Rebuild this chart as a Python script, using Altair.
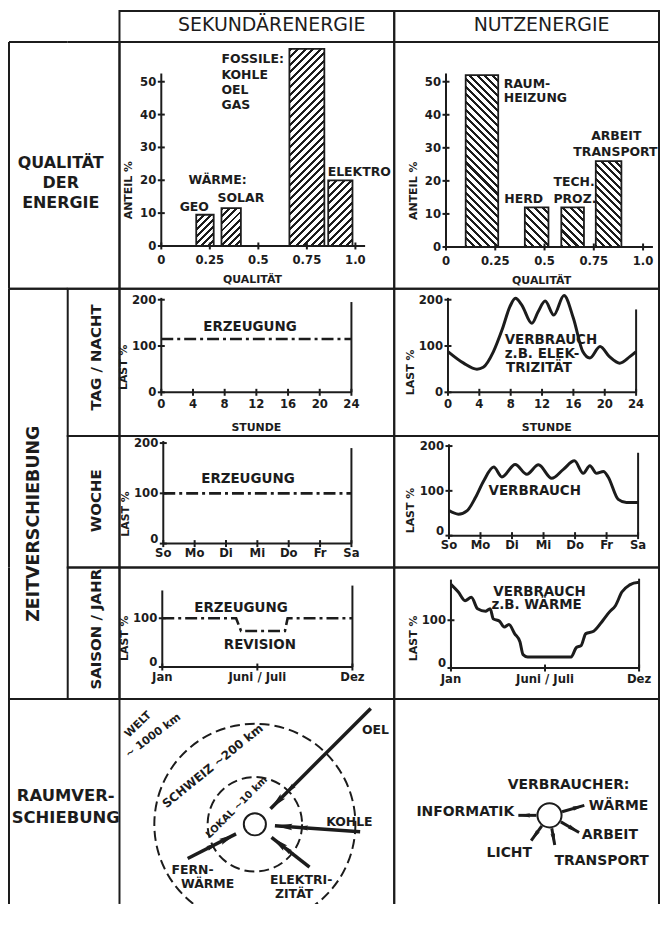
import pandas as pd
import altair as alt

# ================= texts =================
column_titles = ["SEKUNDÄRENERGIE", "NUTZENERGIE"]
qual_title = ["QUALITÄT", "DER", "ENERGIE"]
zeit_title = "ZEITVERSCHIEBUNG"
zeit_rows = ["TAG / NACHT", "WOCHE", "SAISON / JAHR"]
raum_title = ["RAUMVER-", "SCHIEBUNG"]

# ================= Qualität der Energie =================
qual_ticks = [0, 0.25, 0.5, 0.75, 1.0]
qual_tick_labels = ["0", "0.25", "0.5", "0.75", "1.0"]
anteil_ticks = [0, 10, 20, 30, 40, 50]
anteil_tick_labels = ["0", "10", "20", "30", "40", "50"]

sek_bar_q0 = [0.18, 0.31, 0.66, 0.86]
sek_bar_q1 = [0.27, 0.41, 0.84, 0.985]
sek_bar_anteil = [9.5, 11.5, 60.0, 20.0]
sek_lbl_text = ["GEO", "WÄRME:", "SOLAR", "FOSSILE:", "KOHLE", "OEL", "GAS", "ELEKTRO"]
sek_lbl_q = [0.17, 0.29, 0.41, 0.31, 0.31, 0.31, 0.31, 1.02]
sek_lbl_anteil = [11.8, 20.0, 14.5, 57.0, 52.1, 47.6, 43.0, 22.4]
sek_lbl_align = ["center", "center", "center", "left", "left", "left", "left", "center"]

nutz_bar_q0 = [0.10, 0.40, 0.585, 0.76]
nutz_bar_q1 = [0.265, 0.52, 0.70, 0.89]
nutz_bar_anteil = [52.0, 12.0, 12.0, 26.0]
nutz_lbl_text = ["RAUM-", "HEIZUNG", "HERD", "TECH.", "PROZ.", "ARBEIT", "TRANSPORT"]
nutz_lbl_q = [0.293, 0.293, 0.394, 0.545, 0.545, 0.864, 0.86]
nutz_lbl_anteil = [49.4, 45.2, 14.5, 19.6, 14.5, 33.7, 28.6]
nutz_lbl_align = ["left", "left", "center", "left", "left", "center", "center"]

# ================= Zeitverschiebung =================
last_ticks = [0, 100, 200]
last_tick_labels = ["0", "100", "200"]
saison_last_ticks = [0, 100]
saison_last_tick_labels = ["0", "100"]

tag_ticks = [0, 4, 8, 12, 16, 20, 24]
tag_tick_labels = ["0", "4", "8", "12", "16", "20", "24"]
tag_erz_stunde = [0, 24]
tag_erz_last = [115, 115]
tag_verb_stunde = [0, 2.0, 3.7, 4.5, 5.8, 6.9, 7.9, 8.6, 9.4, 10.7, 11.5, 12.4, 13.5,
                   14.8, 16.0, 17.2, 18.1, 19.4, 20.6, 21.9, 23.2, 24]
tag_verb_last = [88, 63, 50, 54, 88, 135, 185, 203, 189, 149, 174, 197, 167,
                 209, 160, 88, 74, 99, 77, 63, 77, 88]

woche_ticks = [0, 1, 2, 3, 4, 5, 6]
woche_tick_labels = ["So", "Mo", "Di", "Mi", "Do", "Fr", "Sa"]
woche_erz_tag = [0, 6]
woche_erz_last = [100, 100]
woche_verb_tag = [0, 0.3, 0.58, 0.84, 1.1, 1.42, 1.68, 2.1, 2.47, 2.84, 3.26, 3.63,
                  3.98, 4.26, 4.47, 4.68, 4.9, 5.05, 5.37, 5.63, 6.0]
woche_verb_last = [56, 48, 56, 85, 122, 153, 131, 159, 137, 158, 128, 148,
                   167, 139, 156, 139, 143, 131, 81, 74, 74]

saison_ticks = [0, 6, 12]
saison_tick_labels = ["Jan", "Juni / Juli", "Dez"]
saison_erz_monat = [0, 4.66, 4.97, 7.74, 7.91, 12]
saison_erz_last = [100, 100, 74, 74, 100, 100]
saison_verb_monat = [0, 0.47, 0.9, 1.3, 1.7, 2.2, 2.5, 2.7, 3.1, 3.4, 3.7, 4.06, 4.4,
                     4.6, 4.9, 7.66, 8.0, 8.3, 8.6, 9.1, 9.7, 10.1, 10.5, 10.9, 11.4, 11.9, 12]
saison_verb_last = [175, 159, 141, 148, 124, 119, 124, 103, 98, 86, 91, 72, 55,
                    28, 23, 23, 43, 47, 72, 77, 100, 117, 131, 159, 174, 179, 179]

# right-hand frame line heights (tag, woche, saison)
sek_frame_top = [195, 190, 167]
nutz_frame_top = [179, 185, 187]

tag_sek_lbl = (["ERZEUGUNG"], [11.2], [140], ["center"])
woche_sek_lbl = (["ERZEUGUNG"], [2.7], [129], ["center"])
saison_sek_lbl = (["ERZEUGUNG", "REVISION"], [4.97, 6.16], [120, 45], ["center", "center"])
tag_nutz_lbl = (["VERBRAUCH", "z.B. ELEK-", "TRIZITÄT"], [7.24, 7.24, 7.4], [112, 82, 52],
                ["left", "left", "left"])
woche_nutz_lbl = (["VERBRAUCH"], [2.72], [100], ["center"])
saison_nutz_lbl = (["VERBRAUCH", "z.B. WÄRME"], [5.65, 5.46], [160, 131], ["center", "center"])

# ================= Raumverschiebung =================
ring_radius = [0.47, 1.0]          # LOKAL, SCHWEIZ
hub_radius = [0.11]
energy_names = ["OEL", "KOHLE", "ELEKTRIZITÄT", "FERNWÄRME"]
energy_phi = [45, -4, -38, 207]
energy_r_from = [1.63, 1.05, 0.69, 0.75]
energy_r_to = [0.22, 0.20, 0.21, 0.21]
energy_r_mark = [0.50, 0.48, 0.40, 0.48]
circle_lbl_text = ["OEL", "KOHLE", "ELEKTRI-", "ZITÄT", "FERN-", "WÄRME", "WELT",
                   "~ 1000 km", "SCHWEIZ ~200 km", "LOKAL ~10 km"]
circle_lbl_x = [1.2, 0.94, 0.15, 0.20, -0.62, -0.47, -1.16, -1.01, -0.42, -0.18]
circle_lbl_y = [0.94, 0.02, -0.55, -0.69, -0.455, -0.59, 0.99, 0.88, 0.58, 0.17]
circle_lbl_align = ["center", "center", "left", "left", "center", "center", "center",
                    "center", "center", "center"]
circle_lbl_angle = [0, 0, 0, 0, 0, 0, 316, 323, 321, 315]
circle_lbl_size = [12.5, 12.5, 12.5, 12.5, 12.5, 12.5, 11, 11, 12, 10]

cons_hub_radius = [0.12]
cons_names = ["INFORMATIK", "WÄRME", "ARBEIT", "TRANSPORT", "LICHT"]
cons_phi = [180, 16, -30, -80, -126]
cons_r_from = [0.13, 0.13, 0.13, 0.13, 0.13]
cons_r_to = [0.31, 0.36, 0.34, 0.30, 0.31]
cons_lbl_text = ["VERBRAUCHER:", "INFORMATIK", "WÄRME", "ARBEIT", "TRANSPORT", "LICHT"]
cons_lbl_x = [0.19, -0.35, 0.39, 0.32, 0.05, -0.40]
cons_lbl_y = [0.30, 0.03, 0.09, -0.20, -0.45, -0.37]
cons_lbl_align = ["center", "right", "left", "left", "left", "center"]

# ================= style / layout =================
LINE = "#1c1c1c"
FONT = "DejaVu Sans"
COND = "DejaVu Sans Condensed, Liberation Sans Narrow, DejaVu Sans"
ARROW = "M0,-1L0.3,0.6L0,0.35L-0.3,0.6Z"
COLW = [59, 52, 276, 266]
ROWH = [31, 248, 148, 132, 132, 206]
UNIT = 101  # px per unit in the Raum diagrams
one = pd.DataFrame({"k": [0]})
NOSTROKE = alt.ViewBackground(strokeOpacity=0)


def border_layers(w, h, sides):
    out = []
    for s in sides:
        if s == "top":
            enc = dict(x=alt.value(0), x2=alt.value(w), y=alt.value(0))
        elif s == "bottom":
            enc = dict(x=alt.value(0), x2=alt.value(w), y=alt.value(h))
        elif s == "left":
            enc = dict(x=alt.value(0), y=alt.value(0), y2=alt.value(h))
        else:
            enc = dict(x=alt.value(w), y=alt.value(0), y2=alt.value(h))
        out.append(alt.Chart(one).mark_rule(color=LINE, strokeWidth=2).encode(**enc))
    return out


def text_cell(w, h, text, cx, cy, size, angle=0, sides=None, lh=None, weight="normal"):
    kw = dict(text=text, font=FONT, fontSize=size, fontWeight=weight, color=LINE,
              align="center", baseline="middle")
    if angle:
        kw["angle"] = angle
    if lh:
        kw["lineHeight"] = lh
    layers = border_layers(w, h, sides or [])
    layers.append(alt.Chart(one).mark_text(**kw).encode(x=alt.value(cx), y=alt.value(cy)))
    ch = alt.layer(*layers).properties(width=w, height=h)
    if sides is not None:
        ch = ch.properties(view=NOSTROKE)
    return ch


def blank_cell(w, h, sides):
    layers = border_layers(w, h, sides)
    layers.append(alt.Chart(one).mark_text(text=" ", fontSize=4).encode(
        x=alt.value(w / 2), y=alt.value(h / 2)))
    return alt.layer(*layers).properties(width=w, height=h, view=NOSTROKE)


def scales(p):
    xs = alt.Scale(domain=p["xdom"], range=p["xr"], nice=False, zero=False)
    ys = alt.Scale(domain=p["ydom"], range=p["yr"], nice=False, zero=False)
    return xs, ys


def axis_layers(p, xs, ys):
    """Axis lines, crossing ticks, tick labels and titles, drawn through the panel scales."""
    X = lambda f: alt.X(f, type="quantitative", scale=xs, axis=None)
    Y = lambda f: alt.Y(f, type="quantitative", scale=ys, axis=None)
    x0, x1 = p["xdom"][0], p["xline"]
    y0, y1 = p["ydom"][0], p["yline"]
    out = []
    lines = pd.DataFrame({"xa": [x0, x0], "xb": [x1, x0], "ya": [y0, y0], "yb": [y0, y1]})
    out.append(alt.Chart(lines).mark_rule(color=LINE, strokeWidth=2).encode(
        x=X("xa"), x2="xb", y=Y("ya"), y2="yb"))
    xt = pd.DataFrame({"v": p["xvals"], "t": p["xlabels"], "b": [y0] * len(p["xvals"])})
    out.append(alt.Chart(xt).mark_tick(orient="vertical", size=7, thickness=2, color=LINE, opacity=1).encode(
        x=X("v"), y=Y("b")))
    out.append(alt.Chart(xt).mark_text(font=COND, fontWeight="bold", fontSize=13, color=LINE,
                                       baseline="top", align="center", dy=p["xdy"]).encode(
        x=X("v"), y=Y("b"), text="t:N"))
    yt = pd.DataFrame({"v": p["yvals"], "t": p["ylabels"], "b": [x0] * len(p["yvals"])})
    out.append(alt.Chart(yt).mark_tick(orient="horizontal", size=7, thickness=2, color=LINE, opacity=1).encode(
        x=X("b"), y=Y("v")))
    for zero_part, ddy in ((True, p.get("y0dy", 0)), (False, 0)):
        sub = yt[(yt["v"] == y0) == zero_part]
        out.append(alt.Chart(sub).mark_text(font=COND, fontWeight="bold", fontSize=13, color=LINE,
                                            baseline="middle", align="right", dx=-5, dy=ddy).encode(
            x=X("b"), y=Y("v"), text="t:N"))
    ttl = pd.DataFrame({"x": [x0], "y": [p["ytitle_at"]], "t": [p["ytitle"]]})
    out.append(alt.Chart(ttl).mark_text(font=FONT, fontWeight="bold", fontSize=11, color=LINE,
                                        angle=270, baseline="middle", align="center",
                                        dy=p["ytitle_dx"]).encode(x=X("x"), y=Y("y"), text="t:N"))
    if p.get("xtitle"):
        xtl = pd.DataFrame({"x": [p["xtitle_at"]], "y": [y0], "t": [p["xtitle"]]})
        out.append(alt.Chart(xtl).mark_text(font=FONT, fontWeight="bold", fontSize=11, color=LINE,
                                            baseline="middle", align="center",
                                            dy=p["xtitle_dy"]).encode(x=X("x"), y=Y("y"), text="t:N"))
    return out


def text_layers(texts, xs, ys, size, weight="bold"):
    df = pd.DataFrame({"t": texts[0], "x": texts[1], "y": texts[2], "al": texts[3]})
    out = []
    for al in ["left", "center", "right"]:
        sub = df[df["al"] == al]
        if len(sub):
            out.append(alt.Chart(sub).mark_text(
                align=al, baseline="middle", font=FONT, fontWeight=weight,
                fontSize=size, color=LINE).encode(
                x=alt.X("x:Q", scale=xs, axis=None),
                y=alt.Y("y:Q", scale=ys, axis=None),
                text="t:N"))
    return out


def hatch(w, h, direction, period=7.5, frac=0.4):
    n = max(2, int(round((w + h) / period)))
    s = (w + h) / (w * w + h * h)
    if direction == "/":
        x1, y1, x2, y2 = 0, 0, s * w, s * h
    else:
        x1, y1, x2, y2 = 0, 1, s * w, 1 - s * h
    stops = []
    for i in range(n):
        a, b, c = i / n, (i + frac) / n, min((i + 1) / n, 1.0)
        stops += [{"offset": round(a, 5), "color": LINE},
                  {"offset": round(b, 5), "color": LINE},
                  {"offset": round(b, 5), "color": "white"},
                  {"offset": round(c, 5), "color": "white"}]
    return {"gradient": "linear", "x1": x1, "y1": y1, "x2": x2, "y2": y2, "stops": stops}


def bar_panel(w, h, p, q0, q1, vals, texts, direction):
    xs, ys = scales(p)
    kx = (p["xr"][1] - p["xr"][0]) / (p["xdom"][1] - p["xdom"][0])
    ky = (p["yr"][0] - p["yr"][1]) / (p["ydom"][1] - p["ydom"][0])
    layers = []
    for i in range(len(vals)):
        df = pd.DataFrame({"q0": [q0[i]], "q1": [q1[i]], "a": [vals[i]]})
        grad = hatch((q1[i] - q0[i]) * kx, vals[i] * ky, direction)
        layers.append(alt.Chart(df).mark_bar(fill=grad, stroke=LINE, strokeWidth=1.8).encode(
            x=alt.X("q0:Q", scale=xs, axis=None), x2="q1",
            y=alt.Y("a:Q", scale=ys, axis=None), y2=alt.datum(0)))
    layers += axis_layers(p, xs, ys)
    layers += text_layers(texts, xs, ys, 12.5)
    return alt.layer(*layers).properties(width=w, height=h)


def line_panel(w, h, p, series, frame_top, texts):
    xs, ys = scales(p)
    layers = []
    for xv, yv, dashed in series:
        df = pd.DataFrame({"x": xv, "y": yv})
        if dashed:
            mk = dict(color=LINE, strokeWidth=2.6, strokeDash=[12, 4, 3, 4])
        else:
            mk = dict(color=LINE, strokeWidth=3, interpolate="monotone")
        layers.append(alt.Chart(df).mark_line(**mk).encode(
            x=alt.X("x:Q", scale=xs, axis=None), y=alt.Y("y:Q", scale=ys, axis=None)))
    rdf = pd.DataFrame({"x": [p["xdom"][1]], "y0": [0], "y1": [frame_top]})
    layers.append(alt.Chart(rdf).mark_rule(color=LINE, strokeWidth=2).encode(
        x=alt.X("x:Q", scale=xs, axis=None), y=alt.Y("y0:Q", scale=ys, axis=None), y2="y1"))
    layers += axis_layers(p, xs, ys)
    layers += text_layers(texts, xs, ys, 13.5)
    return alt.layer(*layers).properties(width=w, height=h)


def diagram_scales(w, h, cx, cy):
    xs = alt.Scale(domain=[-cx / UNIT, (w - cx) / UNIT], nice=False, zero=False)
    ys = alt.Scale(domain=[-(h - cy) / UNIT, cy / UNIT], nice=False, zero=False)
    ss = alt.Scale(domain=[0, 4], range=[0, 4 * UNIT * UNIT])
    return xs, ys, ss


def ring_layer(radii, xs, ys, ss, dashed):
    mk = dict(shape="circle", filled=False, color=LINE, strokeWidth=2, opacity=1, clip=True)
    if dashed:
        mk["strokeDash"] = [10, 5]
    return alt.Chart(pd.DataFrame({"r": radii})).transform_calculate(
        cx="0", cy="0", d2="pow(2 * datum.r, 2)").mark_point(**mk).encode(
        x=alt.X("cx:Q", scale=xs, axis=None), y=alt.Y("cy:Q", scale=ys, axis=None),
        size=alt.Size("d2:Q", scale=ss, legend=None))


def arrow_layers(names, phi, r_from, r_to, xs, ys, width, head_size, inward, r_mark=None):
    """Shaft from r_from to r_to along angle phi, arrow tip at r_to (+ optional barb at r_mark)."""
    off = (head_size ** 0.5) / 2 / UNIT          # tip offset of the head symbol
    sign = 1 if inward else -1
    df = pd.DataFrame({"n": names, "phi": phi, "ra": r_from, "rb": r_to,
                       "rm": r_mark if r_mark else r_to})
    rot = "((270 - datum.phi) % 360 + 360) % 360" if inward else "((90 - datum.phi) % 360 + 360) % 360"
    base = alt.Chart(df).transform_calculate(
        a="datum.phi * PI / 180",
        xa="datum.ra * cos(datum.a)", ya="datum.ra * sin(datum.a)",
        xb="datum.rb * cos(datum.a)", yb="datum.rb * sin(datum.a)",
        xh=f"(datum.rb + {sign * off}) * cos(datum.a)", yh=f"(datum.rb + {sign * off}) * sin(datum.a)",
        xm="datum.rm * cos(datum.a)", ym="datum.rm * sin(datum.a)",
        rot=rot)
    out = [base.mark_rule(color=LINE, strokeWidth=width).encode(
        x=alt.X("xa:Q", scale=xs, axis=None), y=alt.Y("ya:Q", scale=ys, axis=None),
        x2="xb", y2="yb")]
    out.append(base.mark_point(shape=ARROW, filled=True, color=LINE, opacity=1, size=head_size).encode(
        x=alt.X("xh:Q", scale=xs, axis=None), y=alt.Y("yh:Q", scale=ys, axis=None),
        angle=alt.Angle("rot:Q", scale=None)))
    if r_mark:
        out.append(base.mark_point(shape=ARROW, filled=True, color=LINE, opacity=1,
                                   size=head_size * 0.6).encode(
            x=alt.X("xm:Q", scale=xs, axis=None), y=alt.Y("ym:Q", scale=ys, axis=None),
            angle=alt.Angle("rot:Q", scale=None)))
    return out


def diag_text_layers(texts, xs, ys, angles=None, sizes=None, default_size=13):
    n = len(texts[0])
    df = pd.DataFrame({"t": texts[0], "x": texts[1], "y": texts[2], "al": texts[3],
                       "ang": angles if angles else [0] * n,
                       "fs": sizes if sizes else [default_size] * n})
    out = []
    for al in ["left", "center", "right"]:
        sub = df[df["al"] == al]
        if len(sub):
            out.append(alt.Chart(sub).mark_text(
                align=al, baseline="middle", font=FONT, fontWeight="bold", color=LINE).encode(
                x=alt.X("x:Q", scale=xs, axis=None), y=alt.Y("y:Q", scale=ys, axis=None),
                text="t:N", angle=alt.Angle("ang:Q", scale=None),
                size=alt.Size("fs:Q", scale=None)))
    return out


# ================= panels =================
W, H = COLW, ROWH

P_BAR_SEK = dict(xdom=[0, 1.05], xr=[42, 42 + 1.05 * 195], ydom=[0, 52.5], yr=[205, 205 - 52.5 * 3.3],
                 xline=1.05, yline=52.5, xvals=qual_ticks, xlabels=qual_tick_labels, xdy=8,
                 yvals=anteil_ticks, ylabels=anteil_tick_labels,
                 xtitle="QUALITÄT", xtitle_at=0.47, xtitle_dy=34,
                 ytitle="ANTEIL %", ytitle_at=17, ytitle_dx=-32)
P_BAR_NUTZ = dict(xdom=[0, 1.05], xr=[52, 52 + 1.05 * 198], ydom=[0, 52.5], yr=[206, 206 - 52.5 * 3.32],
                  xline=1.05, yline=52.5, xvals=qual_ticks, xlabels=qual_tick_labels, xdy=8,
                  yvals=anteil_ticks, ylabels=anteil_tick_labels,
                  xtitle="QUALITÄT", xtitle_at=0.485, xtitle_dy=34,
                  ytitle="ANTEIL %", ytitle_at=17, ytitle_dx=-32)

P_TAG_SEK = dict(xdom=[0, 24], xr=[42, 233], ydom=[0, 200], yr=[104, 11], xline=24, yline=204,
                 xvals=tag_ticks, xlabels=tag_tick_labels, xdy=6,
                 yvals=last_ticks, ylabels=last_tick_labels,
                 xtitle="STUNDE", xtitle_at=12, xtitle_dy=36,
                 ytitle="LAST %", ytitle_at=54, ytitle_dx=-37)
P_TAG_NUTZ = dict(xdom=[0, 24], xr=[54, 243], ydom=[0, 200], yr=[104, 11], xline=24, yline=204,
                  xvals=tag_ticks, xlabels=tag_tick_labels, xdy=6,
                  yvals=last_ticks, ylabels=last_tick_labels,
                  xtitle="STUNDE", xtitle_at=12.6, xtitle_dy=36,
                  ytitle="LAST %", ytitle_at=43, ytitle_dx=-37)
P_WOCHE_SEK = dict(xdom=[0, 6], xr=[44, 233], ydom=[0, 200], yr=[108, 7], xline=6, yline=204,
                   xvals=woche_ticks, xlabels=woche_tick_labels, xdy=3, y0dy=-5,
                   yvals=last_ticks, ylabels=last_tick_labels,
                   ytitle="LAST %", ytitle_at=59, ytitle_dx=-37)
P_WOCHE_NUTZ = dict(xdom=[0, 6], xr=[55, 245], ydom=[0, 200], yr=[100, 10], xline=6, yline=204,
                    xvals=woche_ticks, xlabels=woche_tick_labels, xdy=3, y0dy=-5,
                    yvals=last_ticks, ylabels=last_tick_labels,
                    ytitle="LAST %", ytitle_at=56, ytitle_dx=-38)
P_SAISON_SEK = dict(xdom=[0, 12], xr=[43, 234], ydom=[0, 157], yr=[100, 100 - 157 * 0.49],
                    xline=12, yline=157, xvals=saison_ticks, xlabels=saison_tick_labels, xdy=4, y0dy=-5,
                    yvals=saison_last_ticks, ylabels=saison_last_tick_labels,
                    ytitle="LAST %", ytitle_at=59, ytitle_dx=-37)
P_SAISON_NUTZ = dict(xdom=[0, 12], xr=[57, 246], ydom=[0, 185], yr=[101, 101 - 185 * 0.48],
                     xline=12, yline=185, xvals=saison_ticks, xlabels=saison_tick_labels, xdy=5, y0dy=-5,
                     yvals=saison_last_ticks, ylabels=saison_last_tick_labels,
                     ytitle="LAST %", ytitle_at=62, ytitle_dx=-37)

bar_sek = bar_panel(W[2], H[1], P_BAR_SEK, sek_bar_q0, sek_bar_q1, sek_bar_anteil,
                    (sek_lbl_text, sek_lbl_q, sek_lbl_anteil, sek_lbl_align), "/")
bar_nutz = bar_panel(W[3], H[1], P_BAR_NUTZ, nutz_bar_q0, nutz_bar_q1, nutz_bar_anteil,
                     (nutz_lbl_text, nutz_lbl_q, nutz_lbl_anteil, nutz_lbl_align), "\\")

tag_sek = line_panel(W[2], H[2], P_TAG_SEK, [(tag_erz_stunde, tag_erz_last, True)], sek_frame_top[0], tag_sek_lbl)
tag_nutz = line_panel(W[3], H[2], P_TAG_NUTZ, [(tag_verb_stunde, tag_verb_last, False)], nutz_frame_top[0], tag_nutz_lbl)
woche_sek = line_panel(W[2], H[3], P_WOCHE_SEK, [(woche_erz_tag, woche_erz_last, True)], sek_frame_top[1], woche_sek_lbl)
woche_nutz = line_panel(W[3], H[3], P_WOCHE_NUTZ, [(woche_verb_tag, woche_verb_last, False)], nutz_frame_top[1], woche_nutz_lbl)
saison_sek = line_panel(W[2], H[4], P_SAISON_SEK, [(saison_erz_monat, saison_erz_last, True)], sek_frame_top[2], saison_sek_lbl)
saison_nutz = line_panel(W[3], H[4], P_SAISON_NUTZ, [(saison_verb_monat, saison_verb_last, False)], nutz_frame_top[2], saison_nutz_lbl)

# Raum: energy transport circles
cxs, cys, css = diagram_scales(W[2], H[5], 136, 126)
circle_layers = border_layers(W[2], H[5], ["top", "left", "right"])
circle_layers.append(ring_layer(ring_radius, cxs, cys, css, True))
circle_layers.append(ring_layer(hub_radius, cxs, cys, css, False))
circle_layers += arrow_layers(energy_names, energy_phi, energy_r_from, energy_r_to,
                              cxs, cys, 3.5, 480, True, r_mark=energy_r_mark)
circle_layers += diag_text_layers((circle_lbl_text, circle_lbl_x, circle_lbl_y, circle_lbl_align),
                                  cxs, cys, circle_lbl_angle, circle_lbl_size)
circle_cell = alt.layer(*circle_layers).properties(width=W[2], height=H[5], view=NOSTROKE)

# Raum: consumers
dxs, dys, dss = diagram_scales(W[3], H[5], 156, 117)
cons_layers = border_layers(W[3], H[5], ["top", "left", "right"])
cons_layers.append(ring_layer(cons_hub_radius, dxs, dys, dss, False))
cons_layers += arrow_layers(cons_names, cons_phi, cons_r_from, cons_r_to,
                            dxs, dys, 3, 220, False)
cons_layers += diag_text_layers((cons_lbl_text, cons_lbl_x, cons_lbl_y, cons_lbl_align),
                                dxs, dys, default_size=14)
cons_cell = alt.layer(*cons_layers).properties(width=W[3], height=H[5], view=NOSTROKE)

cells = [
    # header row
    blank_cell(W[0], H[0], []), blank_cell(W[1], H[0], []),
    text_cell(W[2], H[0], column_titles[0], 153, 14, 19),
    text_cell(W[3], H[0], column_titles[1], 148, 14, 19),
    # Qualität
    text_cell(W[0], H[1], qual_title, 52, 122, 16, sides=["top", "left", "bottom"], lh=20, weight="bold"),
    blank_cell(W[1], H[1], ["top", "right", "bottom"]),
    bar_sek, bar_nutz,
    # Tag / Nacht
    blank_cell(W[0], H[2], ["left", "top"]),
    text_cell(W[1], H[2], zeit_rows[0], 28, 69, 15, angle=270, weight="bold"),
    tag_sek, tag_nutz,
    # Woche
    text_cell(W[0], H[3], zeit_title, 25, 88, 17.5, angle=270, sides=["left"], weight="bold"),
    text_cell(W[1], H[3], zeit_rows[1], 28, 65, 15, angle=270, weight="bold"),
    woche_sek, woche_nutz,
    # Saison / Jahr
    blank_cell(W[0], H[4], ["left", "bottom"]),
    text_cell(W[1], H[4], zeit_rows[2], 28, 62, 15, angle=270, weight="bold"),
    saison_sek, saison_nutz,
    # Raumverschiebung
    text_cell(W[0], H[5], raum_title, 57, 98, 16.5, sides=["top", "left"], lh=22, weight="bold"),
    blank_cell(W[1], H[5], ["top"]),
    circle_cell, cons_cell,
]

chart = alt.concat(*cells, columns=4, spacing=0, bounds="flush", align="each").properties(
    padding=0, background="white"
).configure_view(
    stroke=LINE, strokeWidth=2
)

chart.save("out.html", embed_options={"renderer": "svg", "actions": False})
